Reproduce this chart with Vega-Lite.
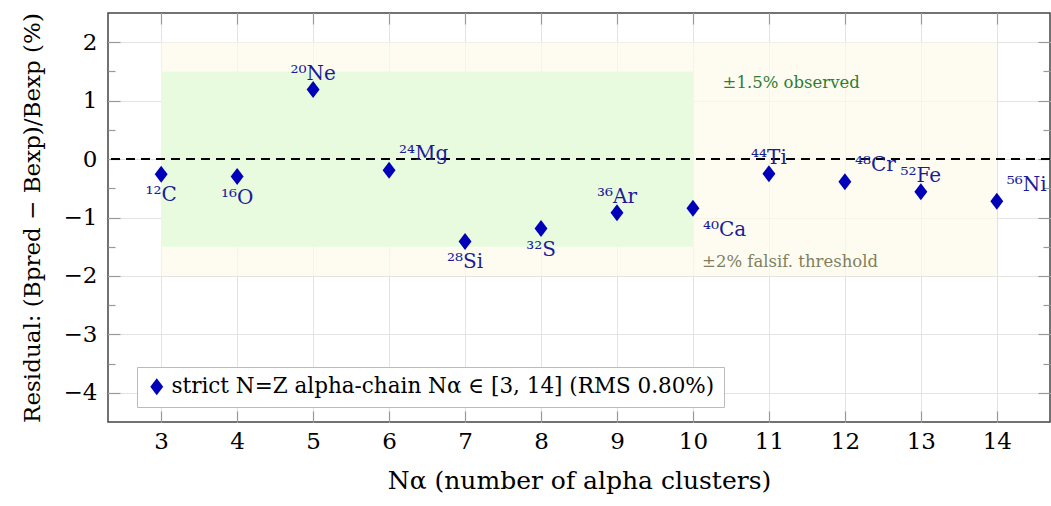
{
  "$schema": "https://vega.github.io/schema/vega-lite/v6.json",
  "width": 942,
  "height": 409,
  "autosize": {"type": "none"},
  "padding": {"left": 108, "top": 13, "right": 1, "bottom": 84},
  "config": {
    "font": "DejaVu Serif",
    "view": {"stroke": "#444444", "strokeWidth": 1.5},
    "axis": {
      "domain": false,
      "tickColor": "#999999",
      "tickWidth": 1.2,
      "gridColor": "#e3e3e3",
      "gridWidth": 1,
      "labelFont": "DejaVu Serif",
      "titleFont": "DejaVu Serif",
      "labelFontSize": 23,
      "titleFontSize": 25,
      "labelColor": "#000000",
      "titleColor": "#000000",
      "titleFontWeight": "normal"
    }
  },
  "datasets": {
    "bands": [
      {"band": "falsif", "x1": 3, "x2": 14, "y1": -2, "y2": 2},
      {"band": "observed", "x1": 3, "x2": 10, "y1": -1.5, "y2": 1.5}
    ],
    "pts": [
      {"n": 3, "r": -0.26, "nuc": "¹²C", "series": "strict N=Z alpha-chain Nα ∈ [3, 14] (RMS 0.80%)"},
      {"n": 4, "r": -0.30, "nuc": "¹⁶O", "series": "strict N=Z alpha-chain Nα ∈ [3, 14] (RMS 0.80%)"},
      {"n": 5, "r": 1.19, "nuc": "²⁰Ne", "series": "strict N=Z alpha-chain Nα ∈ [3, 14] (RMS 0.80%)"},
      {"n": 6, "r": -0.19, "nuc": "²⁴Mg", "series": "strict N=Z alpha-chain Nα ∈ [3, 14] (RMS 0.80%)"},
      {"n": 7, "r": -1.41, "nuc": "²⁸Si", "series": "strict N=Z alpha-chain Nα ∈ [3, 14] (RMS 0.80%)"},
      {"n": 8, "r": -1.19, "nuc": "³²S", "series": "strict N=Z alpha-chain Nα ∈ [3, 14] (RMS 0.80%)"},
      {"n": 9, "r": -0.92, "nuc": "³⁶Ar", "series": "strict N=Z alpha-chain Nα ∈ [3, 14] (RMS 0.80%)"},
      {"n": 10, "r": -0.84, "nuc": "⁴⁰Ca", "series": "strict N=Z alpha-chain Nα ∈ [3, 14] (RMS 0.80%)"},
      {"n": 11, "r": -0.25, "nuc": "⁴⁴Ti", "series": "strict N=Z alpha-chain Nα ∈ [3, 14] (RMS 0.80%)"},
      {"n": 12, "r": -0.39, "nuc": "⁴⁸Cr", "series": "strict N=Z alpha-chain Nα ∈ [3, 14] (RMS 0.80%)"},
      {"n": 13, "r": -0.56, "nuc": "⁵²Fe", "series": "strict N=Z alpha-chain Nα ∈ [3, 14] (RMS 0.80%)"},
      {"n": 14, "r": -0.72, "nuc": "⁵⁶Ni", "series": "strict N=Z alpha-chain Nα ∈ [3, 14] (RMS 0.80%)"}
    ],
    "notes": [
      {"kind": "observed", "x": 10.39, "y": 1.21, "text": "±1.5% observed"},
      {"kind": "falsif", "x": 10.12, "y": -1.85, "text": "±2% falsif. threshold"}
    ]
  },
  "layer": [
    {
      "data": {"name": "bands"},
      "transform": [{"filter": "datum.band === 'falsif'"}],
      "mark": {"type": "rect", "fill": "#fefbea", "opacity": 0.7},
      "encoding": {
        "x": {"field": "x1", "type": "quantitative", "scale": {"domain": [2.3, 14.7], "nice": false, "zero": false},
              "axis": {"orient": "bottom", "values": [3,4,5,6,7,8,9,10,11,12,13,14], "grid": true, "tickSize": -11, "labelPadding": 19, "title": "Nα (number of alpha clusters)", "titlePadding": 15}},
        "x2": {"field": "x2"},
        "y": {"field": "y1", "type": "quantitative", "scale": {"domain": [-4.5, 2.5], "nice": false, "zero": false},
              "axis": {"orient": "left", "values": [-4,-3,-2,-1,0,1,2], "grid": true, "tickSize": -12, "labelPadding": 23, "title": "Residual: (Bpred − Bexp)/Bexp (%)", "titleFontSize": 23, "titlePadding": 19}},
        "y2": {"field": "y2"}
      }
    },
    {
      "data": {"name": "bands"},
      "transform": [{"filter": "datum.band === 'observed'"}],
      "mark": {"type": "rect", "fill": "#e9fbdf"},
      "encoding": {
        "x": {"field": "x1", "type": "quantitative",
              "axis": {"orient": "top", "values": [3,4,5,6,7,8,9,10,11,12,13,14], "grid": false, "tickSize": -11, "labels": false, "title": null}},
        "x2": {"field": "x2"},
        "y": {"field": "y1", "type": "quantitative",
              "axis": {"orient": "right", "values": [-4,-3,-2,-1,0,1,2], "grid": false, "tickSize": -12, "labels": false, "title": null}},
        "y2": {"field": "y2"}
      }
    },
    {
      "data": {"values": [{"y": 0}]},
      "mark": {"type": "rule", "strokeDash": [9, 6], "strokeWidth": 2, "color": "#000000"},
      "encoding": {
        "y": {"field": "y", "type": "quantitative",
              "axis": {"orient": "left", "values": [-3.5,-2.5,-1.5,-0.5,0.5,1.5], "grid": false, "tickSize": -7, "labels": false, "title": null}}
      }
    },
    {
      "data": {"name": "notes"},
      "transform": [{"filter": "datum.kind === 'observed'"}],
      "mark": {"type": "text", "align": "left", "baseline": "alphabetic", "font": "DejaVu Serif", "fontSize": 16.5, "color": "#2e7d32"},
      "encoding": {
        "x": {"field": "x", "type": "quantitative", "axis": null},
        "y": {"field": "y", "type": "quantitative", "axis": null},
        "text": {"field": "text"}
      }
    },
    {
      "data": {"name": "notes"},
      "transform": [{"filter": "datum.kind === 'falsif'"}],
      "mark": {"type": "text", "align": "left", "baseline": "alphabetic", "font": "DejaVu Serif", "fontSize": 16.5, "color": "#7f7f5f"},
      "encoding": {
        "x": {"field": "x", "type": "quantitative", "axis": null},
        "y": {"field": "y", "type": "quantitative", "axis": null},
        "text": {"field": "text"}
      }
    },
    {
      "data": {"name": "pts"},
      "mark": {"type": "point", "filled": true, "opacity": 1, "size": 289, "shape": "M-0.76,0L0,-1L0.76,0L0,1Z"},
      "encoding": {
        "x": {"field": "n", "type": "quantitative", "axis": null},
        "y": {"field": "r", "type": "quantitative",
              "axis": {"orient": "right", "values": [-3.5,-2.5,-1.5,-0.5,0.5,1.5], "grid": false, "tickSize": -7, "labels": false, "title": null}},
        "color": {"field": "series", "type": "nominal", "scale": {"range": ["#0000b8"]},
                  "legend": {"orient": "none", "legendX": 29, "legendY": 354, "title": null, "fillColor": "#ffffff", "strokeColor": "#bbbbbb", "padding": 9, "labelFontSize": 21.5, "labelFont": "DejaVu Serif", "labelColor": "#000000", "labelLimit": 0, "symbolSize": 289, "symbolType": "M-0.76,0L0,-1L0.76,0L0,1Z", "symbolStrokeWidth": 0, "labelOffset": 4}}
      }
    },
    {
      "data": {"name": "pts"},
      "transform": [{"filter": {"field": "nuc", "oneOf": ["¹²C", "¹⁶O", "²⁸Si", "³²S"]}}],
      "mark": {"type": "text", "align": "center", "baseline": "alphabetic", "dy": 27, "fontSize": 20, "color": "#1c1c99"},
      "encoding": {
        "x": {"field": "n", "type": "quantitative", "axis": null},
        "y": {"field": "r", "type": "quantitative", "axis": null},
        "text": {"field": "nuc"}
      }
    },
    {
      "data": {"name": "pts"},
      "transform": [{"filter": {"field": "nuc", "oneOf": ["²⁰Ne", "³⁶Ar", "⁴⁴Ti", "⁵²Fe"]}}],
      "mark": {"type": "text", "align": "center", "baseline": "alphabetic", "dy": -10, "fontSize": 20, "color": "#1c1c99"},
      "encoding": {
        "x": {"field": "n", "type": "quantitative", "axis": null},
        "y": {"field": "r", "type": "quantitative", "axis": null},
        "text": {"field": "nuc"}
      }
    },
    {
      "data": {"name": "pts"},
      "transform": [{"filter": {"field": "nuc", "oneOf": ["²⁴Mg", "⁴⁸Cr", "⁵⁶Ni"]}}],
      "mark": {"type": "text", "align": "left", "baseline": "alphabetic", "dx": 10, "dy": -10.5, "fontSize": 20, "color": "#1c1c99"},
      "encoding": {
        "x": {"field": "n", "type": "quantitative", "axis": null},
        "y": {"field": "r", "type": "quantitative", "axis": null},
        "text": {"field": "nuc"}
      }
    },
    {
      "data": {"name": "pts"},
      "transform": [{"filter": {"field": "nuc", "oneOf": ["⁴⁰Ca"]}}],
      "mark": {"type": "text", "align": "left", "baseline": "alphabetic", "dx": 10, "dy": 28, "fontSize": 20, "color": "#1c1c99"},
      "encoding": {
        "x": {"field": "n", "type": "quantitative", "axis": null},
        "y": {"field": "r", "type": "quantitative", "axis": null},
        "text": {"field": "nuc"}
      }
    }
  ],
  "resolve": {"axis": {"x": "independent", "y": "independent"}}
}
